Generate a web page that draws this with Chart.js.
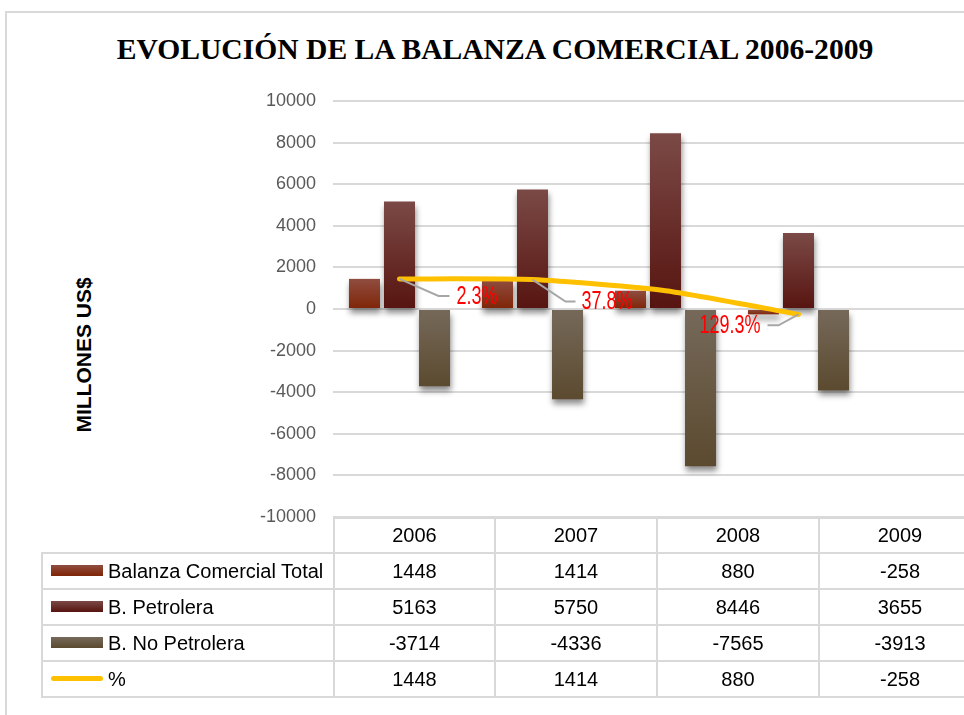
<!DOCTYPE html>
<html>
<head>
<meta charset="utf-8">
<script src="https://cdn.jsdelivr.net/npm/chart.js@4/dist/chart.umd.min.js"></script>
<style>
  html,body{margin:0;padding:0;width:964px;height:715px;overflow:hidden;background:#fff}
  #wrap{position:relative;width:1000px;height:715px}
  #frame{position:absolute;left:5px;top:11px;width:1100px;height:800px;border:2px solid #d9d9d9;box-sizing:border-box}
  #title{position:absolute;left:0;width:990px;top:33px;text-align:center;font:bold 29.6px "Liberation Serif","Times New Roman",serif;color:#000;white-space:nowrap}
  #ytitle{position:absolute;left:84px;top:355px;transform:translate(-50%,-50%) rotate(-90deg);font:bold 21px "Liberation Sans",Arial,sans-serif;white-space:nowrap;color:#000}
  canvas{position:absolute;left:0;top:0}
  table{position:absolute;left:41px;top:517px;border-collapse:collapse;table-layout:fixed;font:20px "Liberation Sans",Arial,sans-serif;color:#000}
  td{border:2px solid #d9d9d9;text-align:center;padding:0;white-space:nowrap;overflow:hidden}
  td.lab{text-align:left;padding-left:8px}
  td.blank{border:none}
  .sw{display:inline-block;width:52px;height:11px;vertical-align:middle;margin-right:5px;position:relative;top:-2px}
  .sw.ln{height:5px;border-radius:3px;background:#ffc000}
</style>
</head>
<body>
<div id="wrap">
  <div id="frame"></div>
  <div id="title"></div>
  <div id="ytitle"></div>
  <canvas id="c" width="1000" height="715"></canvas>
  <table id="tbl"></table>
</div>
<script>
  // ===== data =====
  const chartTitle = 'EVOLUCIÓN DE LA BALANZA COMERCIAL 2006-2009';
  const yTitle = 'MILLONES US$';
  const years = ['2006', '2007', '2008', '2009'];
  const balanzaTotal = [1448, 1414, 880, -258];
  const bPetrolera = [5163, 5750, 8446, 3655];
  const bNoPetrolera = [-3714, -4336, -7565, -3913];
  const pctLine = [1448, 1414, 880, -258];
  const pctLabels = ['2.3%', '37.8%', '', '129.3%'];
  const yMin = -10000, yMax = 10000, yStep = 2000;

  const seriesNames = ['Balanza Comercial Total', 'B. Petrolera', 'B. No Petrolera', '%'];
  const barColors = [
    ['#8f4d40', '#7f2406'],
    ['#7b4a46', '#571410'],
    ['#76695a', '#5b4a2f']
  ];

  document.getElementById('title').textContent = chartTitle;
  document.getElementById('ytitle').textContent = yTitle;

  // ===== data table =====
  function swatch(i){
    if(i === 3) return '<span class="sw ln"></span>';
    return `<span class="sw" style="background:linear-gradient(${barColors[i][0]},${barColors[i][1]})"></span>`;
  }
  const rows = [balanzaTotal, bPetrolera, bNoPetrolera, pctLine];
  const colW = [292, 161, 162, 162, 162];
  let html = '<colgroup>' + colW.map(w => `<col style="width:${w}px">`).join('') + '</colgroup>';
  html += '<tr style="height:35px"><td class="blank"></td>' + years.map(y => `<td>${y}</td>`).join('') + '</tr>';
  html += rows.map((r, i) => `<tr style="height:36px"><td class="lab">${swatch(i)}${seriesNames[i]}</td>` +
    r.map(v => `<td>${v}</td>`).join('') + '</tr>').join('');
  document.getElementById('tbl').innerHTML = html;

  // ===== chart =====
  function barGrad(top, bottom){
    return function(ctx){
      const chart = ctx.chart, y = chart.scales.y;
      if(!chart.chartArea || !y || ctx.raw == null) return bottom;
      const p0 = y.getPixelForValue(0), p1 = y.getPixelForValue(ctx.raw);
      const g = chart.ctx.createLinearGradient(0, Math.min(p0, p1), 0, Math.max(p0, p1) + 0.5);
      g.addColorStop(0, top); g.addColorStop(1, bottom);
      return g;
    };
  }

  const shadowPlugin = {
    id: 'barShadow',
    beforeDatasetDraw(chart, args){
      if(args.meta.type !== 'bar') return;
      const c = chart.ctx;
      c.save();
      c.shadowColor = 'rgba(0,0,0,0.45)';
      c.shadowBlur = 6;
      c.shadowOffsetX = 1;
      c.shadowOffsetY = 5;
    },
    afterDatasetDraw(chart, args){
      if(args.meta.type === 'bar') chart.ctx.restore();
    }
  };

  // leader lines + red percentage labels next to the line points
  const labelOffsets = [
    {ex: 39, ey: 17, hx: 50, tx: 57, align: 'left'},
    {ex: 33, ey: 22, hx: 43, tx: 49, align: 'left'},
    null,
    {ex: -20, ey: 11, hx: -31, tx: -38, align: 'right'}
  ];
  const pctLabelPlugin = {
    id: 'pctLabels',
    afterDatasetsDraw(chart){
      const meta = chart.getDatasetMeta(0);
      const c = chart.ctx;
      meta.data.forEach((pt, i) => {
        const o = labelOffsets[i];
        if(!o || !pctLabels[i]) return;
        c.save();
        c.strokeStyle = '#a6a6a6'; c.lineWidth = 2;
        c.beginPath();
        c.moveTo(pt.x, pt.y);
        c.lineTo(pt.x + o.ex, pt.y + o.ey);
        c.lineTo(pt.x + o.hx, pt.y + o.ey);
        c.stroke();
        c.translate(pt.x + o.tx, pt.y + o.ey + 1);
        c.scale(0.72, 1);
        c.font = '25px "Liberation Sans", Arial, sans-serif';
        c.fillStyle = '#ff0000';
        c.textAlign = o.align; c.textBaseline = 'middle';
        c.fillText(pctLabels[i], 0, 0);
        c.restore();
      });
    }
  };

  new Chart(document.getElementById('c'), {
    type: 'bar',
    data: {
      labels: [...years, ''],
      datasets: [
        { type: 'line', label: seriesNames[3], data: pctLine, borderColor: '#ffc000', borderWidth: 5,
          pointRadius: 0, tension: 0.2, borderCapStyle: 'round', borderJoinStyle: 'round', order: 0 },
        { label: seriesNames[0], data: balanzaTotal, backgroundColor: barGrad(...barColors[0]), order: 1,
          categoryPercentage: 0.79, barPercentage: 0.886 },
        { label: seriesNames[1], data: bPetrolera, backgroundColor: barGrad(...barColors[1]), order: 1,
          categoryPercentage: 0.79, barPercentage: 0.886 },
        { label: seriesNames[2], data: bNoPetrolera, backgroundColor: barGrad(...barColors[2]), order: 1,
          categoryPercentage: 0.79, barPercentage: 0.886 }
      ]
    },
    options: {
      responsive: false,
      animation: false,
      layout: { padding: { top: 101, bottom: 198, left: 0, right: 2 } },
      plugins: { legend: { display: false }, tooltip: { enabled: false } },
      scales: {
        x: { display: false },
        y: {
          min: yMin, max: yMax,
          afterFit(scale){ scale.width = 333; },
          ticks: { stepSize: yStep, padding: 17, color: '#595959',
            callback: v => String(v),
            font: { family: '"Liberation Sans", Arial, sans-serif', size: 18 } },
          grid: { color: '#d9d9d9', lineWidth: 2, drawTicks: false },
          border: { display: false }
        }
      }
    },
    plugins: [shadowPlugin, pctLabelPlugin]
  });
</script>
</body>
</html>
